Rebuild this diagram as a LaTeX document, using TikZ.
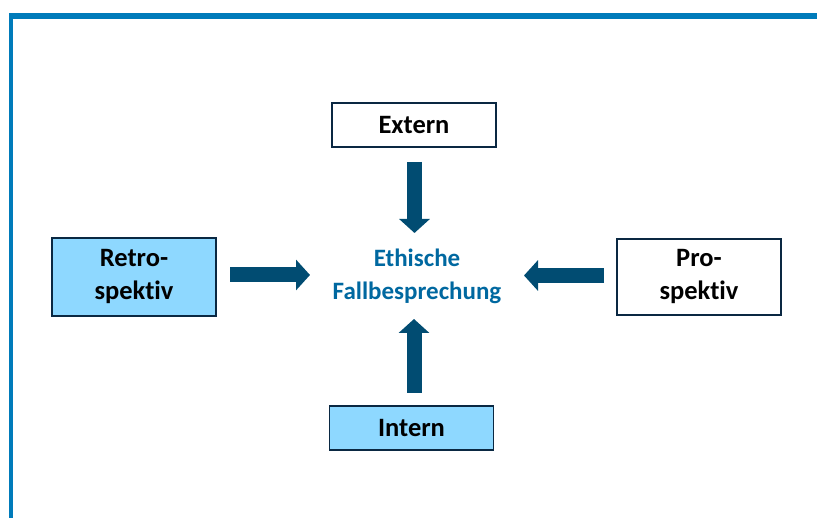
\documentclass[tikz,border=0pt]{standalone}
\usepackage{fontspec}
\setmainfont{Carlito}[Ligatures=NoCommon]
\usepackage{tikz}
\usetikzlibrary{arrows.meta}
\definecolor{rahmenblau}{RGB}{0,123,186}
\definecolor{pfeilblau}{RGB}{1,76,114}
\definecolor{kastenblau}{RGB}{142,216,255}
\definecolor{kantenblau}{RGB}{10,40,66}
\definecolor{textblau}{RGB}{0,104,160}
\tikzset{
  kasten/.style={draw=kantenblau,line width=1.5pt,minimum width=164pt,align=center,
    font=\fontsize{26.5}{33}\selectfont\bfseries,text=black,inner sep=0pt},
  pfeil/.style={pfeilblau,line width=15pt,-{Triangle[width=30pt,length=14pt]}}
}
\begin{document}
\begin{tikzpicture}[x=1pt,y=1pt]
			\useasboundingbox (0,0) rectangle (817,518);
			\fill[rahmenblau] (9,0) rectangle (13,505);
			\fill[rahmenblau] (9,499) rectangle (817,505);
				\node[kasten,minimum height=44pt] (extern) at (414,393) {Extern};
				\node[kasten,minimum height=44pt,fill=kastenblau] (intern) at (411.5,90) {Intern};
				\node[kasten,minimum height=78pt,fill=kastenblau] (retro) at (134,241) {Retro-\\spektiv};
				\node[kasten,minimum height=76pt] (pro) at (699,241) {Pro-\\spektiv};
				\node[align=center,text=textblau,font=\fontsize{25}{33}\selectfont\bfseries] (fall) at (417,242) {Ethische\\Fallbesprechung};
				\coordinate (e1) at (414.5,356);
				\coordinate (e2) at (414.5,285);
				\coordinate (i1) at (414,125);
				\coordinate (i2) at (414,199);
				\coordinate (r1) at (230,243);
				\coordinate (r2) at (310,243);
				\coordinate (p1) at (604,242.5);
				\coordinate (p2) at (524,242.5);
				\draw[pfeil] (e1) -- (e2);
				\draw[pfeil] (i1) -- (i2);
				\draw[pfeil] (r1) -- (r2);
				\draw[pfeil] (p1) -- (p2);
		\end{tikzpicture}
\end{document}
